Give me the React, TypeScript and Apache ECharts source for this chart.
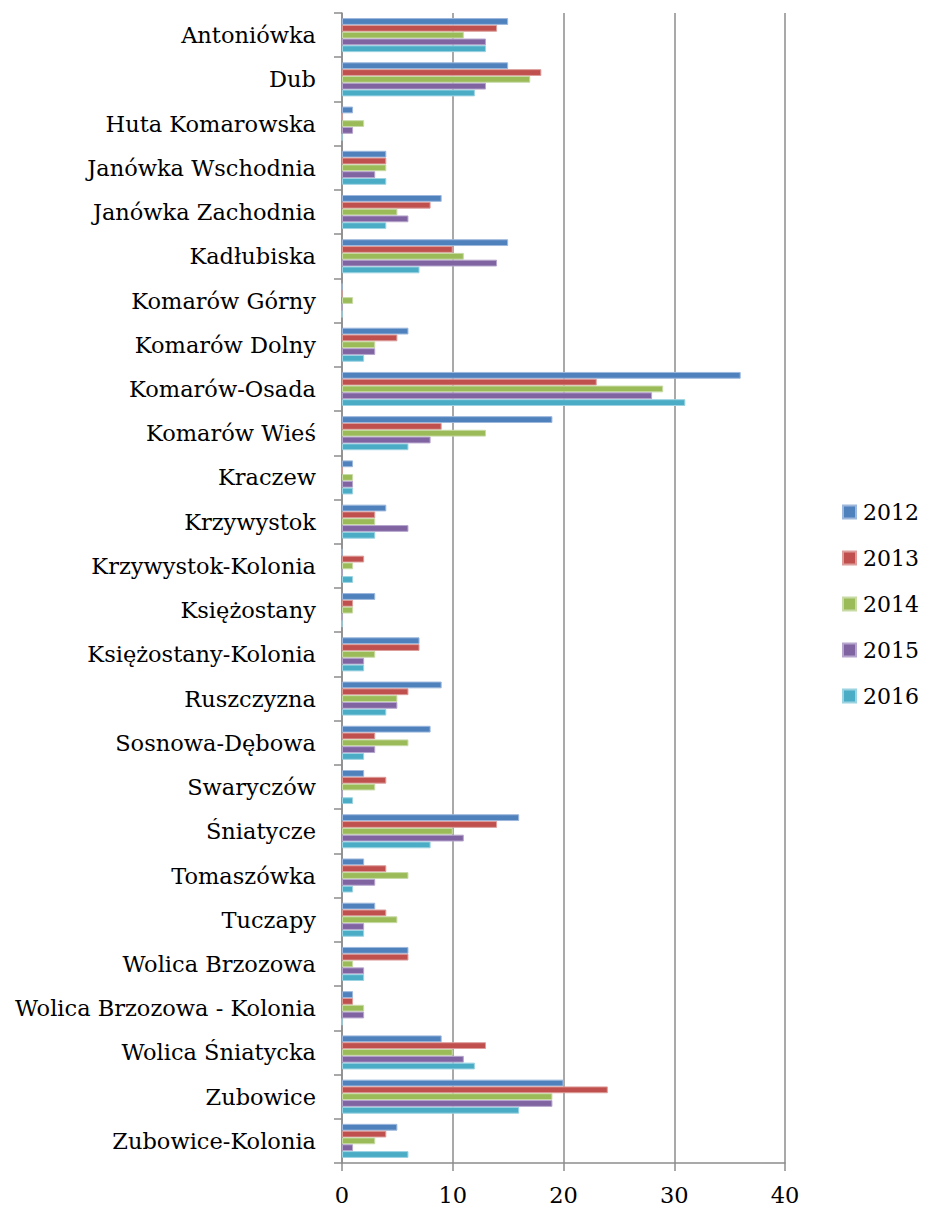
import React, { useEffect, useRef } from "react";
import * as echarts from "echarts";

const categories = [
  "Antoniówka",
  "Dub",
  "Huta Komarowska",
  "Janówka Wschodnia",
  "Janówka Zachodnia",
  "Kadłubiska",
  "Komarów Górny",
  "Komarów Dolny",
  "Komarów-Osada",
  "Komarów Wieś",
  "Kraczew",
  "Krzywystok",
  "Krzywystok-Kolonia",
  "Księżostany",
  "Księżostany-Kolonia",
  "Ruszczyzna",
  "Sosnowa-Dębowa",
  "Swaryczów",
  "Śniatycze",
  "Tomaszówka",
  "Tuczapy",
  "Wolica Brzozowa",
  "Wolica Brzozowa - Kolonia",
  "Wolica Śniatycka",
  "Zubowice",
  "Zubowice-Kolonia",
];

const v2012 = [15, 15, 1, 4, 9, 15, 0, 6, 36, 19, 1, 4, 0, 3, 7, 9, 8, 2, 16, 2, 3, 6, 1, 9, 20, 5];
const v2013 = [14, 18, 0, 4, 8, 10, 0, 5, 23, 9, 0, 3, 2, 1, 7, 6, 3, 4, 14, 4, 4, 6, 1, 13, 24, 4];
const v2014 = [11, 17, 2, 4, 5, 11, 1, 3, 29, 13, 1, 3, 1, 1, 3, 5, 6, 3, 10, 6, 5, 1, 2, 10, 19, 3];
const v2015 = [13, 13, 1, 3, 6, 14, 0, 3, 28, 8, 1, 6, 0, 0, 2, 5, 3, 0, 11, 3, 2, 2, 2, 11, 19, 1];
const v2016 = [13, 12, 0, 4, 4, 7, 0, 2, 31, 6, 1, 3, 1, 0, 2, 4, 2, 1, 8, 1, 2, 2, 0, 12, 16, 6];

const seriesNames = ["2012", "2013", "2014", "2015", "2016"];
const seriesValues = [v2012, v2013, v2014, v2015, v2016];
const xTicks = [0, 10, 20, 30, 40];

const colors = ["#4F81BD", "#C0504D", "#9BBB59", "#8064A2", "#4BACC6"];
const borders = ["#9DB8DC", "#DC9D9B", "#C8DBA6", "#B6A5CC", "#9CD3E2"];

const FONT = "'DejaVu Serif', serif";
const GRID_COLOR = "#8c8c8c";

export default function App() {
  const ref = useRef<HTMLDivElement>(null);
  useEffect(() => {
    if (!ref.current) return;
    const chart = echarts.init(ref.current, undefined, { renderer: "svg" });
    chart.setOption({
      animation: false,
      backgroundColor: "#ffffff",
      color: colors,
      grid: { left: 342, right: 140, top: 13, bottom: 46, containLabel: false },
      legend: {
        orient: "vertical",
        left: 837,
        top: 495,
        itemWidth: 13,
        itemHeight: 13,
        itemGap: 22,
        icon: "rect",
        data: seriesNames,
        textStyle: {
          fontFamily: FONT,
          fontSize: 22,
          lineHeight: 24,
          color: "#000",
          padding: [0, 0, 0, 2],
        },
      },
      xAxis: {
        type: "value",
        min: 0,
        max: 40,
        interval: 10,
        axisLine: { show: true, lineStyle: { color: GRID_COLOR, width: 1.5 } },
        axisTick: { show: true, length: 8, lineStyle: { color: GRID_COLOR, width: 1.5 } },
        splitLine: { show: true, lineStyle: { color: GRID_COLOR, width: 1.5 } },
        axisLabel: {
          fontFamily: FONT,
          fontSize: 22.5,
          color: "#000",
          margin: 20,
          formatter: (v: number) => (xTicks.includes(v) ? String(v) : ""),
        },
      },
      yAxis: {
        type: "category",
        data: categories,
        inverse: true,
        axisLine: { show: true, lineStyle: { color: GRID_COLOR, width: 1.5 } },
        axisTick: { show: true, length: 8, lineStyle: { color: GRID_COLOR, width: 1.5 } },
        axisLabel: {
          fontFamily: FONT,
          fontSize: 22.5,
          color: "#000",
          margin: 26,
        },
      },
      series: seriesNames.map((name, i) => ({
        name,
        type: "bar",
        data: seriesValues[i],
        barGap: "0%",
        barCategoryGap: "23%",
        itemStyle: { color: colors[i], borderColor: borders[i], borderWidth: 1 },
      })),
    });
    return () => chart.dispose();
  }, []);
  return (
    <div
      ref={ref}
      style={{ position: "absolute", left: 0, top: 0, width: 925, height: 1209 }}
    />
  );
}
